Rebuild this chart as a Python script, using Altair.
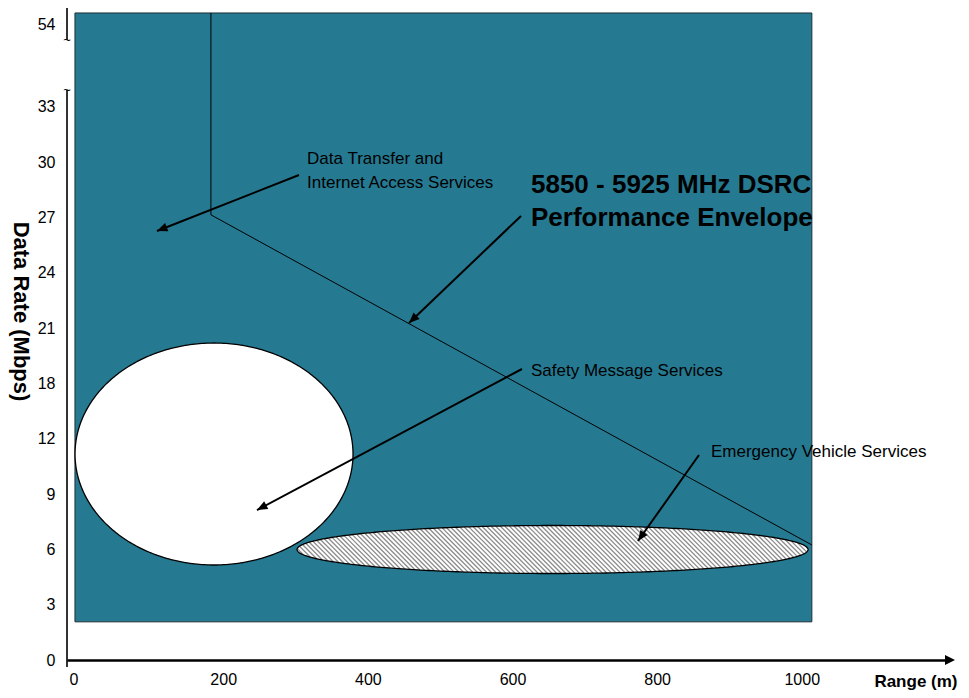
import math
import altair as alt
import pandas as pd

# ---------------- data ----------------
x_ticks = [0, 200, 400, 600, 800, 1000]
# y axis is a schematic (non-linear) scale: labels sit at evenly spaced slots
y_tick_pos = [0, 1, 2, 3, 4, 5, 6, 7, 8, 9, 10, 11.5]
y_tick_labels = ["0", "3", "6", "9", "12", "18", "21", "24", "27", "30", "33", "54"]

# background (performance region)
rect_x = [-5, 1014]
rect_y = [0.69, 11.70]

# envelope outline
env_x = [183, 183, 1014]
env_y = [11.70, 8.05, 2.08]

# ellipses: centre x, centre y, radius x, radius y
white_ell = [187.3, 3.725, 192.2, 2.007]
hatch_ell = [655.4, 1.998, 353.3, 0.434]

# annotation texts
anno_text = ["Data Transfer and", "Internet Access Services",
             "Safety Message Services", "Emergency Vehicle Services"]
anno_x = [316, 316, 625.6, 874.5]
anno_y = [9.06, 8.626, 5.226, 3.761]

env_text = ["5850 - 5925 MHz DSRC", "Performance Envelope"]
env_tx = [625.6, 625.6]
env_ty = [8.59, 7.993]

# arrows (tail -> head)
arrow_xt = [304.8, 611.8, 613.1, 857.9]
arrow_yt = [8.770, 8.029, 5.262, 3.707]
arrow_xh = [108.4, 456.9, 246.7, 773.5]
arrow_yh = [7.758, 6.094, 2.712, 2.152]

# y axis line pieces (with break)
yaxis_y = [11.79, 10.31]
yaxis_y2 = [11.21, -0.127]
break_y = [11.21, 10.31]

# ---------------- layout ----------------
X_DOM = [-16, 1205]
Y_DOM = [0, 11.79]
W, H = 883, 652
PX_X = W / (X_DOM[1] - X_DOM[0])
PX_Y = H / (Y_DOM[1] - Y_DOM[0])
TEAL = "#257A92"
FONT = "Liberation Sans"

xs = alt.Scale(domain=X_DOM, nice=False, zero=False)
ys = alt.Scale(domain=Y_DOM, nice=False, zero=False)

label_expr = " : ".join(
    f"datum.value == {p} ? '{l}'" for p, l in zip(y_tick_pos, y_tick_labels)
) + " : ''"

x_axis = alt.Axis(values=x_ticks, format="d", grid=False, ticks=False, tickSize=0,
                  domain=True, domainColor="black", domainWidth=2.5,
                  labelPadding=11, labelFontSize=16, labelFont=FONT, labelColor="black",
                  labelFlush=False, labelOverlap=False,
                  labelOffset={"condition": {"test": "datum.value == 0", "value": -5}, "value": 0},
                  title="Range (m)", titleX=890, titleY=21, titleAlign="right",
                  titleBaseline="middle", titleFontSize=17, titleFontWeight="bold",
                  titleFont=FONT, titleColor="black")
y_axis = alt.Axis(values=y_tick_pos, labelExpr=label_expr, grid=False, ticks=False, tickSize=0,
                  domain=False, labelPadding=12, labelFontSize=16, labelFont=FONT,
                  labelColor="black", labelFlush=False, labelOverlap=False,
                  title="Data Rate (Mbps)", titleAngle=90, titleX=-47, titleY=303,
                  titleAlign="center", titleBaseline="middle", titleFontSize=22,
                  titleFontWeight="bold", titleFont=FONT, titleColor="black")


def X(f):
    return alt.X(f, type="quantitative", scale=xs, axis=x_axis)


def Y(f):
    return alt.Y(f, type="quantitative", scale=ys, axis=y_axis)


# background rect
rect_df = pd.DataFrame({"x": [rect_x[0]], "x2": [rect_x[1]], "y": [rect_y[0]], "y2": [rect_y[1]]})
bg = alt.Chart(rect_df).mark_rect(fill=TEAL, stroke="#1d2f36", strokeWidth=1).encode(
    x=X("x"), x2="x2", y=Y("y"), y2="y2")

# envelope
env_df = pd.DataFrame({"x": env_x, "y": env_y, "i": list(range(len(env_x)))})
env = alt.Chart(env_df).mark_line(color="black", strokeWidth=1).encode(
    x=X("x"), y=Y("y"), order="i:Q")


def ellipse_area(e, **kw):
    cx, cy, rx, ry = e
    return alt.Chart(alt.sequence(0, 181, 1, as_="t")).transform_calculate(
        ex=f"{cx} + {rx}*cos(datum.t*PI/180)",
        ey=f"{cy} + {ry}*sin(datum.t*PI/180)",
        ey2=f"{cy} - {ry}*sin(datum.t*PI/180)",
    ).mark_area(**kw).encode(x=X("ex:Q"), y=Y("ey:Q"), y2="ey2:Q")


white = ellipse_area(white_ell, fill="white", stroke="black", strokeWidth=1.3)
hatch_bg = ellipse_area(hatch_ell, fill="white")

# hatch lines (45 degree on screen) clipped to the hatched ellipse
cx, cy, rx, ry = hatch_ell
k = -(rx * PX_X) / (ry * PX_Y)
bmax = math.sqrt(1 + k * k)
db = 4.6 / (ry * PX_Y)
hatch = alt.Chart(alt.sequence(-bmax + db / 2, bmax, db, as_="b")).transform_calculate(
    D=f"sqrt(max(0, {1 + k * k} - datum.b*datum.b))",
).transform_calculate(
    u1=f"(-({k})*datum.b - datum.D)/{1 + k * k}",
    u2=f"(-({k})*datum.b + datum.D)/{1 + k * k}",
).transform_calculate(
    hx=f"{cx} + {rx}*datum.u1",
    hy=f"{cy} + {ry}*({k}*datum.u1 + datum.b)",
    hx2=f"{cx} + {rx}*datum.u2",
    hy2=f"{cy} + {ry}*({k}*datum.u2 + datum.b)",
).mark_rule(stroke="#8c8c8c", strokeWidth=1.3).encode(
    x=X("hx:Q"), y=Y("hy:Q"), x2="hx2:Q", y2="hy2:Q")

hatch_outline = ellipse_area(hatch_ell, fill="white", fillOpacity=0, stroke="black", strokeWidth=1.3)

# arrows
ang = []
for xt, yt, xh, yh in zip(arrow_xt, arrow_yt, arrow_xh, arrow_yh):
    dx = (xh - xt) * PX_X
    dy = -(yh - yt) * PX_Y
    ang.append((math.degrees(math.atan2(dx, -dy)) + 360) % 360)
arr_df = pd.DataFrame({"xt": arrow_xt, "yt": arrow_yt, "xh": arrow_xh, "yh": arrow_yh, "ang": ang})
arr_lines = alt.Chart(arr_df).mark_rule(color="black", strokeWidth=2).encode(
    x=X("xt"), y=Y("yt"), x2="xh", y2="yh")
arr_heads = alt.Chart(arr_df).mark_point(
    shape="M0,0 L-0.42,1 L0.42,1 Z", filled=True, fill="black", strokeWidth=0, opacity=1, size=440
).encode(x=X("xh"), y=Y("yh"), angle=alt.Angle("ang:Q", scale=None))

# texts
anno_df = pd.DataFrame({"x": anno_x, "y": anno_y, "t": anno_text})
anno = alt.Chart(anno_df).mark_text(align="left", baseline="middle", font=FONT, fontSize=17,
                                    color="black").encode(x=X("x"), y=Y("y"), text="t:N")
envt_df = pd.DataFrame({"x": env_tx, "y": env_ty, "t": env_text})
envt = alt.Chart(envt_df).mark_text(align="left", baseline="middle", font=FONT, fontSize=26,
                                    fontWeight="bold", color="black").encode(
    x=X("x"), y=Y("y"), text="t:N")

# y axis line with break, x axis arrow head
ya_df = pd.DataFrame({"y": yaxis_y, "y2": yaxis_y2})
ya = alt.Chart(ya_df).mark_rule(color="black", strokeWidth=1.6).encode(
    x=alt.value(0), y=Y("y"), y2="y2")
br_df = pd.DataFrame({"y": break_y, "t": ["~", "~"]})
br = alt.Chart(br_df).mark_text(font=FONT, fontSize=13, color="black", baseline="middle").encode(
    x=alt.value(0), y=Y("y"), text="t:N")
xa_df = pd.DataFrame({"x": [X_DOM[1]], "y": [Y_DOM[0]]})
xa = alt.Chart(xa_df).mark_point(shape="M0.5,0 L-0.5,-0.5 L-0.5,0.5 Z", filled=True, fill="black",
                                 strokeWidth=0, opacity=1, size=400).encode(x=X("x"), y=Y("y"))

chart = alt.layer(bg, env, white, hatch_bg, hatch, hatch_outline, arr_lines, arr_heads,
                  anno, envt, ya, br, xa).properties(
    width=W, height=H,
    autosize=alt.AutoSizeParams(type="none"),
    padding={"left": 59, "top": 0, "right": 10, "bottom": 30},
    background="white",
).configure_view(stroke=None)

chart.save("out.html", embed_options={"renderer": "svg", "actions": False})
